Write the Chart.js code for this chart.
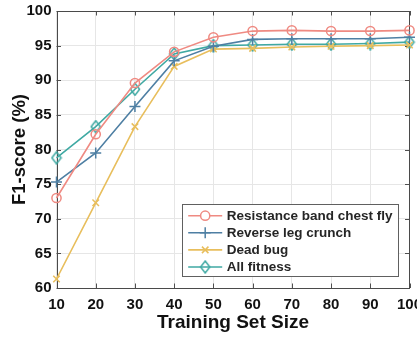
<!DOCTYPE html>
<html>
<head>
<meta charset="utf-8">
<script src="https://cdn.jsdelivr.net/npm/chart.js@4.4.1/dist/chart.umd.min.js"></script>
<style>
  html, body { margin: 0; padding: 0; background: #ffffff; overflow: hidden; }
  #wrap { position: relative; width: 417px; height: 339px; }
</style>
</head>
<body>
<div id="wrap"><canvas id="c"></canvas></div>
<script>
// Training set sizes (x) and F1-scores (%) for each exercise
const trainingSizes = [10, 20, 30, 40, 50, 60, 70, 80, 90, 100];
const resistanceBand = [73.0, 82.2, 89.6, 94.1, 96.2, 97.1, 97.2, 97.1, 97.1, 97.2];
const reverseLegCrunch = [75.3, 79.5, 86.2, 92.8, 94.9, 95.9, 96.0, 96.0, 96.0, 96.2];
const deadBug = [61.3, 72.3, 83.3, 92.0, 94.5, 94.6, 94.8, 94.9, 95.0, 95.1];
const allFitness = [78.8, 83.3, 88.7, 93.8, 95.0, 95.1, 95.2, 95.2, 95.3, 95.5];
const seriesNames = ['Resistance band chest fly', 'Reverse leg crunch', 'Dead bug', 'All fitness'];
const xTicks = [10, 20, 30, 40, 50, 60, 70, 80, 90, 100];
const yTicks = [60, 65, 70, 75, 80, 85, 90, 95, 100];

const FONT = "'Liberation Sans', Arial, Helvetica, sans-serif";
const colors = ['#EF8A82', '#4E7FA3', '#E8BE5C', '#3FA9A3'];

// Tall outlined diamond marker, drawn once onto a small canvas
function diamondMarker(color) {
  const c = document.createElement('canvas');
  c.width = 12; c.height = 14;
  const g = c.getContext('2d');
  g.strokeStyle = color;
  g.lineWidth = 1.5;
  g.beginPath();
  g.moveTo(6, 1); g.lineTo(10.6, 7); g.lineTo(6, 13); g.lineTo(1.4, 7);
  g.closePath();
  g.stroke();
  return c;
}

const markers = ['circle', 'cross', 'crossRot', diamondMarker(colors[3])];
const markerSizes = [4.6, 5.5, 4.6, 6];

const toPoints = ys => trainingSizes.map((x, i) => ({ x, y: ys[i] }));
const seriesValues = [resistanceBand, reverseLegCrunch, deadBug, allFitness];

const datasets = seriesValues.map((vals, i) => ({
  label: seriesNames[i],
  data: toPoints(vals),
  borderColor: colors[i],
  backgroundColor: 'rgba(0,0,0,0)',
  pointBorderColor: colors[i],
  pointBackgroundColor: 'rgba(0,0,0,0)',
  pointStyle: markers[i],
  pointRadius: markerSizes[i],
  pointBorderWidth: 1.5,
  borderWidth: 1.6,
  tension: 0,
  clip: false
}));

// Axes box with inward ticks on all four sides
const axesBox = {
  id: 'axesBox',
  beforeDatasetsDraw(chart) {
    const { ctx, chartArea: a, scales } = chart;
    const len = 4.5;
    ctx.save();
    ctx.strokeStyle = '#505050';
    ctx.lineWidth = 1;
    ctx.beginPath();
    scales.x.ticks.forEach((t, i) => {
      const px = Math.round(scales.x.getPixelForTick(i)) + 0.5;
      ctx.moveTo(px, a.bottom); ctx.lineTo(px, a.bottom - len);
      ctx.moveTo(px, a.top); ctx.lineTo(px, a.top + len);
    });
    scales.y.ticks.forEach((t, i) => {
      const py = Math.round(scales.y.getPixelForTick(i)) + 0.5;
      ctx.moveTo(a.left, py); ctx.lineTo(a.left + len, py);
      ctx.moveTo(a.right, py); ctx.lineTo(a.right - len, py);
    });
    ctx.stroke();
    ctx.strokeStyle = '#4a4a4a';
    ctx.strokeRect(Math.round(a.left) + 0.5, Math.round(a.top) + 0.5,
      Math.round(a.right - a.left) - 1, Math.round(a.bottom - a.top));
    ctx.restore();
  }
};

// Boxed legend in the lower right of the plot
const boxLegend = {
  id: 'boxLegend',
  afterDatasetsDraw(chart) {
    const { ctx, chartArea: a } = chart;
    const w = 216, h = 72;
    const bx = a.right - 11.3 - w, by = a.bottom - 12 - h;
    ctx.save();
    ctx.fillStyle = '#ffffff';
    ctx.fillRect(bx, by, w, h);
    ctx.strokeStyle = '#606060';
    ctx.lineWidth = 1;
    ctx.strokeRect(Math.round(bx) + 0.5, Math.round(by) + 0.5, w, h);
    ctx.font = `bold 13.5px ${FONT}`;
    ctx.textBaseline = 'middle';
    ctx.textAlign = 'left';
    chart.data.datasets.forEach((ds, i) => {
      const cy = by + 11.7 + i * 17.1;
      const x1 = bx + 6, x2 = bx + 40;
      ctx.strokeStyle = ds.borderColor;
      ctx.lineWidth = ds.borderWidth;
      ctx.beginPath(); ctx.moveTo(x1, cy); ctx.lineTo(x2, cy); ctx.stroke();
      ctx.lineWidth = ds.pointBorderWidth;
      ctx.fillStyle = '#ffffff';
      Chart.helpers.drawPoint(ctx, {
        pointStyle: ds.pointStyle, radius: ds.pointRadius, rotation: 0,
        borderWidth: ds.pointBorderWidth
      }, (x1 + x2) / 2, cy);
      ctx.fillStyle = '#262626';
      ctx.fillText(ds.label, bx + 44.5, cy + 0.5);
    });
    ctx.restore();
  }
};

new Chart(document.getElementById('c'), {
  type: 'line',
  data: { datasets },
  plugins: [axesBox, boxLegend],
  options: {
    responsive: true,
    maintainAspectRatio: false,
    animation: false,
    layout: { padding: { top: 11, right: 2.7, left: 0, bottom: 0 } },
    plugins: { legend: { display: false }, tooltip: { enabled: false } },
    scales: {
      x: {
        type: 'linear',
        min: 10, max: 100,
        afterBuildTicks(s) { s.ticks = xTicks.map(v => ({ value: v })); },
        afterFit(s) { s.height = 51; s.paddingLeft = 0; s.paddingRight = 0; },
        grid: { color: '#e6e6e6', lineWidth: 1, drawTicks: false },
        border: { display: false },
        ticks: {
          padding: 8, color: '#111111', maxRotation: 0, autoSkip: false,
          font: { family: FONT, size: 15, weight: 'bold' }
        },
        title: {
          display: true, text: 'Training Set Size', color: '#111111',
          padding: { top: 0, bottom: 4.6 },
          font: { family: FONT, size: 19, weight: 'bold', lineHeight: 1.2 }
        }
      },
      y: {
        min: 60, max: 100,
        afterBuildTicks(s) { s.ticks = yTicks.map(v => ({ value: v })); },
        afterFit(s) { s.width = 56.5; s.paddingTop = 0; s.paddingBottom = 0; },
        grid: { color: '#e6e6e6', lineWidth: 1, drawTicks: false },
        border: { display: false },
        ticks: {
          padding: 5, color: '#111111', autoSkip: false,
          font: { family: FONT, size: 15, weight: 'bold' }
        },
        title: {
          display: true, text: 'F1-score (%)', color: '#111111',
          padding: { top: 8.5, bottom: 0 },
          font: { family: FONT, size: 18.5, weight: 'bold', lineHeight: 1.2 }
        }
      }
    }
  }
});
</script>
</body>
</html>
